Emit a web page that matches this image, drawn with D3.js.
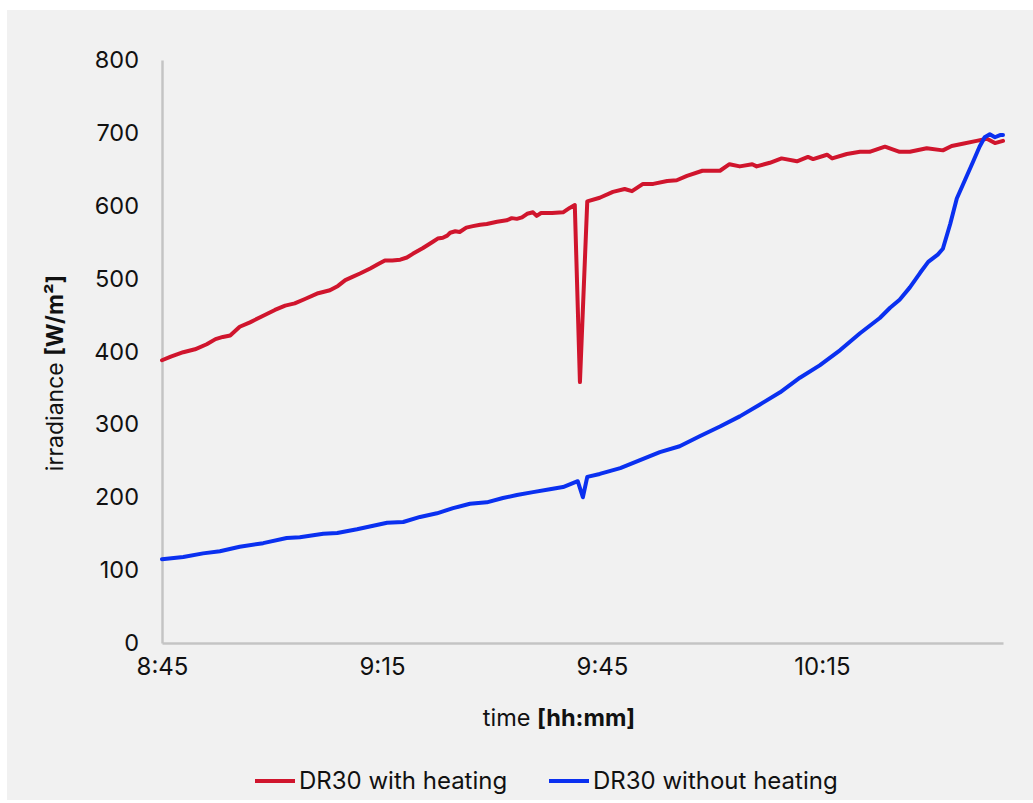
<!DOCTYPE html>
<html>
<head>
<meta charset="utf-8">
<script src="https://cdn.jsdelivr.net/npm/d3@7"></script>
<style>
  body { margin: 0; background: #ffffff; }
  text { font-family: Inter, "Noto Sans", sans-serif; fill: #111; }
</style>
</head>
<body>
<svg id="canvas"></svg>
<script>
// minutes after 8:45
const startMinute = 8 * 60 + 45;

const tickMinutes = [0, 30, 60, 90];
const tickLabels = ['8:45', '9:15', '9:45', '10:15'];
const yTicks = [0, 100, 200, 300, 400, 500, 600, 700, 800];

const seriesNames = ['DR30 with heating', 'DR30 without heating'];

const heatedTime = [0, 1.2, 2.9, 4.5, 6.1, 7.3, 8.3, 9.3, 10.6, 12.0, 13.6, 15.4, 16.8, 18.1, 19.5, 21.3,
    22.9, 24.0, 25.0, 25.9, 27.0, 28.4, 29.5, 30.4, 31.4, 32.5, 33.4, 34.2, 35.6, 37.0, 37.6, 38.3,
    38.9, 39.3, 40.0, 40.6, 41.5, 42.4, 43.4, 44.3, 45.7, 47.0, 47.7, 48.4, 49.1, 49.8, 50.6, 51.1,
    51.7, 53.2, 54.7, 55.6, 56.3, 57.0, 58.0, 59.7, 61.5, 63.1, 64.1, 65.6, 67.0, 68.9, 70.2, 71.6,
    73.7, 76.1, 77.4, 78.8, 80.5, 81.1, 82.9, 84.5, 86.6, 88.1, 88.8, 90.7, 91.4, 93.4, 95.2, 96.5,
    98.6, 100.6, 102.0, 104.3, 106.5, 107.7, 109.2, 111.1, 112.5, 113.6, 114.7];
const heatedValue = [388, 393, 399, 403, 410, 417, 420, 422, 434, 440, 448, 457, 463, 466, 472, 480,
    484, 490, 498, 502, 507, 514, 520, 525, 525, 526, 529, 534, 542, 551, 555, 556,
    559, 563, 565, 564, 570, 572, 574, 575, 578, 580, 583, 582, 584, 589, 591, 586,
    590, 590, 591, 597, 601, 358, 606, 611, 619, 623, 620, 630, 630, 634, 635, 641,
    648, 648, 657, 654, 657, 654, 659, 665, 661, 667, 664, 670, 665, 671, 674, 674,
    681, 674, 674, 679, 676, 682, 685, 689, 692, 686, 689];

const unheatedTime = [0, 2.9, 5.6, 7.9, 10.6, 13.8, 17.0, 18.8, 22.0, 23.9, 26.6, 30.7, 32.9, 35.2,
    37.5, 39.7, 42.0, 44.3, 46.5, 48.4, 50.6, 52.9, 54.7, 56.7, 57.4, 58.0, 59.7, 62.5, 65.2, 67.9,
    70.6, 73.4, 76.1, 78.8, 81.5, 84.3, 87.0, 89.7, 92.5, 95.2, 97.9, 99.3, 100.6, 102.0, 103.4,
    104.5, 105.8, 106.5, 107.5, 108.4, 109.5, 110.6, 111.5, 112.2, 112.9, 113.6, 114.3, 114.7];
const unheatedValue = [115, 118, 123, 126, 132, 137, 144, 145, 150, 151, 156, 165, 166, 173,
    178, 185, 191, 193, 199, 203, 207, 211, 214, 222, 200, 228, 232, 240, 251, 262,
    270, 284, 297, 311, 327, 344, 364, 381, 402, 425, 446, 460, 471, 488, 508,
    523, 533, 541, 575, 610, 635, 660, 681, 694, 698, 694, 697, 697];

const colors = ['#d0152d', '#0a30f0'];

let width = 1033;
let height = 803;

let canvas = d3.select('#canvas');
canvas.attr('width', width);
canvas.attr('height', height);

canvas.append('rect')
    .attr('x', 7)
    .attr('y', 10)
    .attr('width', width - 7)
    .attr('height', 790)
    .attr('fill', '#f1f1f1');

const xScale = d3.scaleLinear()
    .domain([0, 114.7])
    .range([162, 1003]);

const yScale = d3.scaleLinear()
    .domain([0, 800])
    .range([643, 60]);

// axes
const xAxis = d3.axisBottom(xScale)
    .tickValues(tickMinutes)
    .tickFormat((d, i) => tickLabels[i])
    .tickSize(0)
    .tickPadding(15);

const yAxis = d3.axisLeft(yScale)
    .tickValues(yTicks)
    .tickSize(0)
    .tickPadding(23);

const gx = canvas.append('g')
    .attr('transform', 'translate(0,643)')
    .call(xAxis);
gx.select('.domain').attr('stroke', '#c4c4c4').attr('stroke-width', 2.5);
gx.selectAll('text').style('font-size', '24px').attr('fill', '#111')
    .style('font-family', 'Inter, sans-serif');

const gy = canvas.append('g')
    .attr('transform', 'translate(162,0)')
    .call(yAxis);
gy.select('.domain').attr('stroke', '#c4c4c4').attr('stroke-width', 2.5);
gy.selectAll('text').style('font-size', '23.5px').attr('fill', '#111')
    .style('font-family', 'Inter, sans-serif');

// lines
const line = d3.line()
    .x(d => xScale(d[0]))
    .y(d => yScale(d[1]));

const series = [
    d3.zip(heatedTime, heatedValue),
    d3.zip(unheatedTime, unheatedValue)
];

canvas.selectAll('path.series')
    .data(series)
    .enter()
    .append('path')
    .attr('class', 'series')
    .attr('d', line)
    .attr('fill', 'none')
    .attr('stroke', (d, i) => colors[i])
    .attr('stroke-width', 4)
    .attr('stroke-linejoin', 'round')
    .attr('stroke-linecap', 'round');

// axis titles
const yTitle = canvas.append('text')
    .attr('transform', 'translate(63,373) rotate(-90)')
    .attr('text-anchor', 'middle')
    .style('font-size', '23px');
yTitle.append('tspan').text('irradiance ');
yTitle.append('tspan').attr('font-weight', 'bold').text('[W/m²]');

const xTitle = canvas.append('text')
    .attr('x', 559)
    .attr('y', 726)
    .attr('text-anchor', 'middle')
    .style('font-size', '23.5px');
xTitle.append('tspan').text('time ');
xTitle.append('tspan').attr('font-weight', 'bold').text('[hh:mm]');

// legend
const legendX = [255, 549];
const legend = canvas.selectAll('g.legend')
    .data(seriesNames)
    .enter()
    .append('g')
    .attr('class', 'legend')
    .attr('transform', (d, i) => 'translate(' + legendX[i] + ',781)');

legend.append('line')
    .attr('x1', 0)
    .attr('x2', 40)
    .attr('stroke', (d, i) => colors[i])
    .attr('stroke-width', 4);

legend.append('text')
    .attr('x', 44)
    .attr('y', 8)
    .style('font-size', '24px')
    .text(d => d);
</script>
</body>
</html>
